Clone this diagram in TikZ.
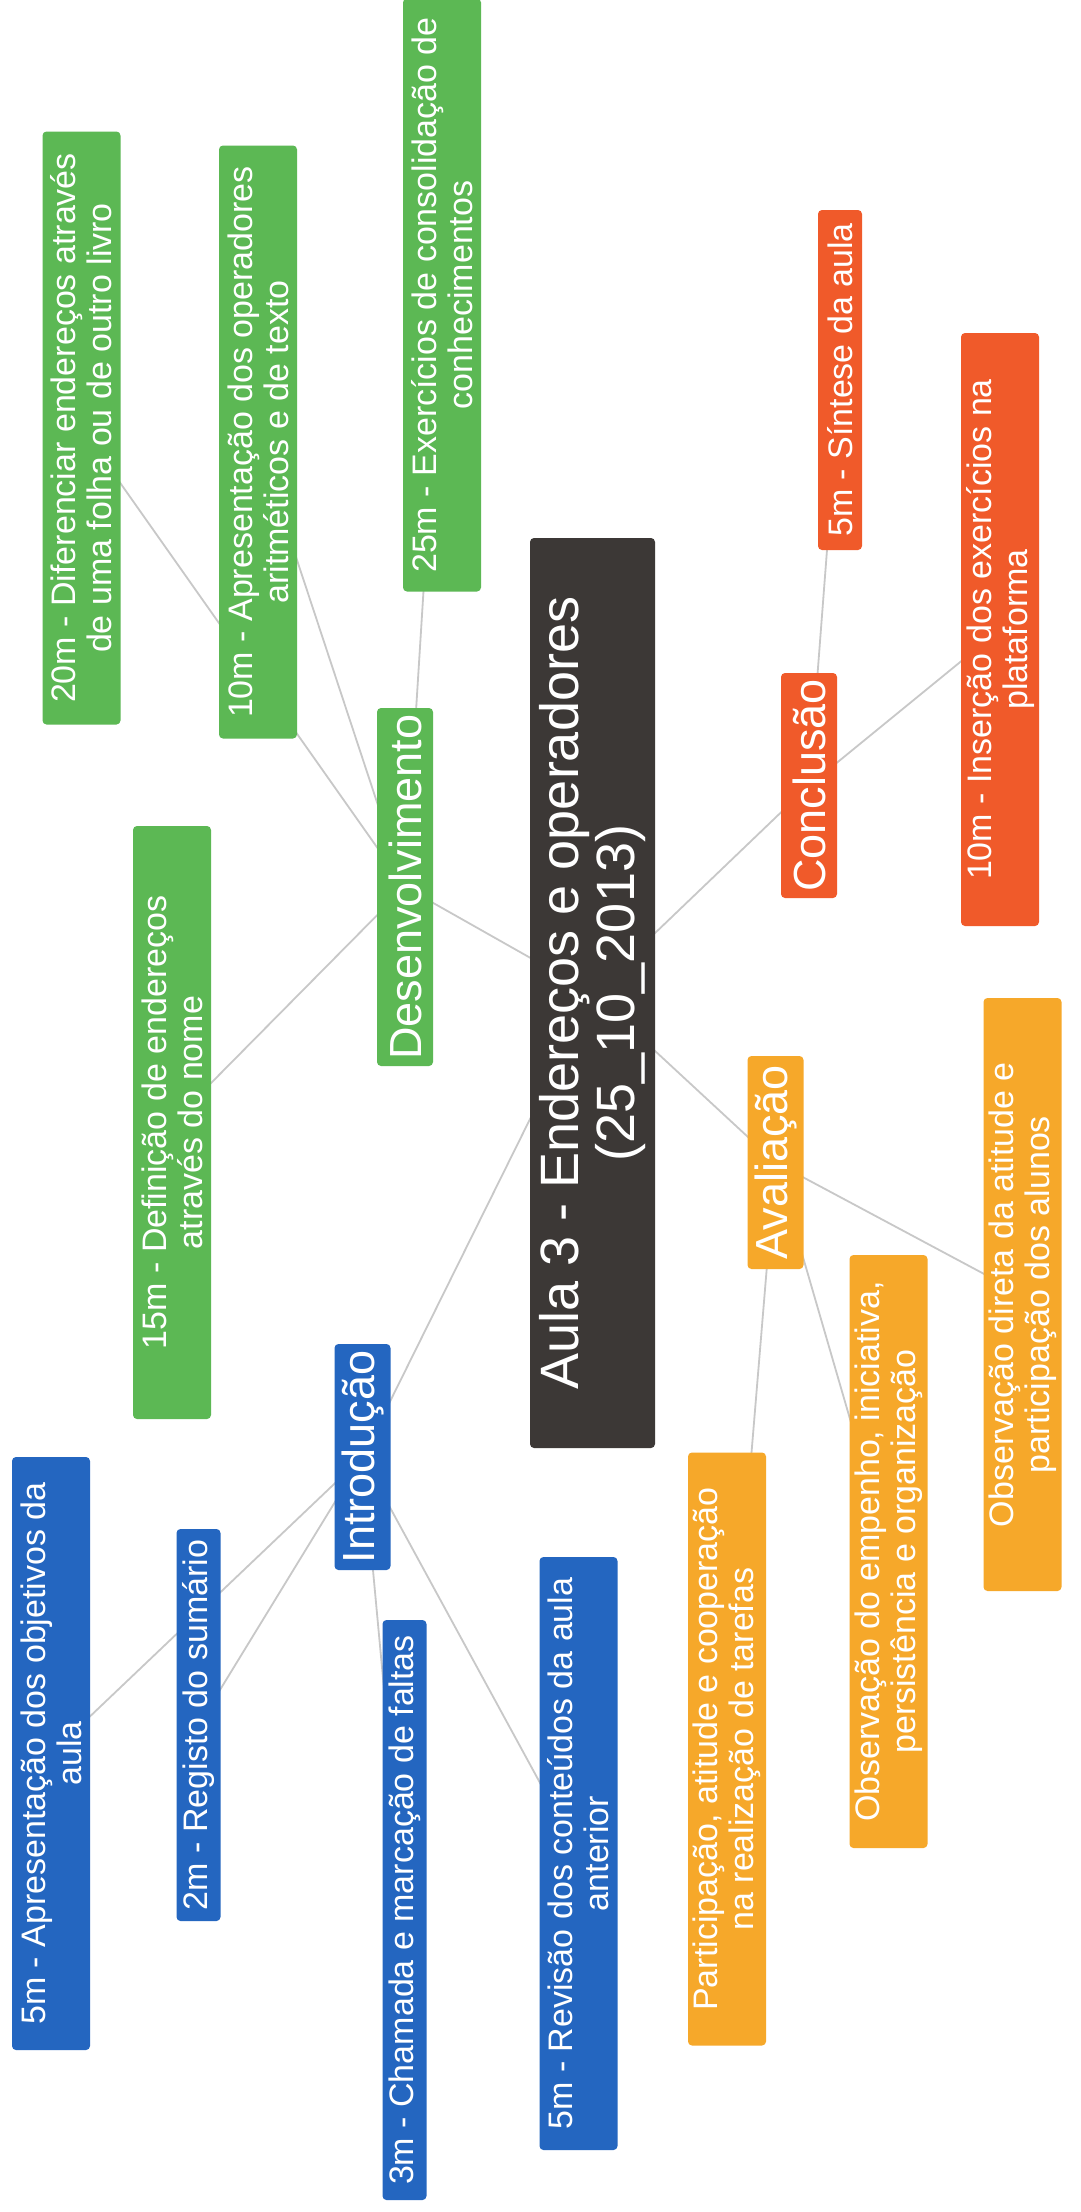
\documentclass[tikz,border=0pt]{standalone}
\usepackage{fontspec}
\setmainfont{Liberation Sans}
\usetikzlibrary{backgrounds}
\definecolor{cgreen}{RGB}{92,184,84}
\definecolor{cblue}{RGB}{36,102,192}
\definecolor{cred}{RGB}{240,90,42}
\definecolor{cyel}{RGB}{246,168,42}
\definecolor{cdark}{RGB}{60,56,54}
\definecolor{linegray}{RGB}{200,200,200}
\tikzset{
  box/.style={rectangle, rounded corners=4pt, rotate=90, text=white, align=center, inner sep=0pt},
  subnode/.style={box, font=\fontsize{34}{36}\selectfont},
  twoline/.style={subnode, minimum width=593pt, minimum height=78pt},
  oneline/.style={subnode, minimum height=44pt},
  branch/.style={box, font=\fontsize{45}{48}\selectfont, minimum height=56pt},
  rootnode/.style={box, fill=cdark, font=\fontsize{54}{56}\selectfont, minimum width=910pt, minimum height=125pt},
  link/.style={draw=linegray, line width=1.8pt},
}
\begin{document}
\begin{tikzpicture}[x=1pt,y=-1pt]
\useasboundingbox (0,0) rectangle (1080,2212);
% root
\node[rootnode] (root) at (592.5,993) {Aula 3 - Endereços e operadores\\(25\_10\_2013)};
% branches
\node[branch, fill=cgreen, minimum width=358pt] (desenv) at (405,887) {Desenvolvimento};
\node[branch, fill=cred, minimum width=225pt] (concl) at (809,785.5) {Conclusão};
\node[branch, fill=cyel, minimum width=213pt] (aval) at (775.5,1162.5) {Avaliação};
\node[branch, fill=cblue, minimum width=226pt] (intro) at (362.5,1457) {Introdução};
% green
\node[twoline, fill=cgreen] (g20) at (81.5,428) {20m - Diferenciar endereços através\\de uma folha ou de outro livro};
\node[twoline, fill=cgreen] (g10) at (258,442) {10m - Apresentação dos operadores\\aritméticos e de texto};
\node[twoline, fill=cgreen] (g25) at (442,295) {25m - Exercícios de consolidação de\\conhecimentos};
\node[twoline, fill=cgreen] (g15) at (172,1122.5) {15m - Definição de endereços\\através do nome};
% red
\node[oneline, fill=cred, minimum width=340pt] (o5) at (840,380) {5m - Síntese da aula};
\node[twoline, fill=cred] (o10) at (1000,629.5) {10m - Inserção dos exercícios na\\plataforma};
% yellow
\node[twoline, fill=cyel] (y1) at (1022.5,1294.5) {Observação direta da atitude e\\participação dos alunos};
\node[twoline, fill=cyel] (y2) at (888.5,1551.5) {Observação do empenho, iniciativa,\\persistência e organização};
\node[twoline, fill=cyel] (y3) at (727,1749) {Participação, atitude e cooperação\\na realização de tarefas};
% blue
\node[twoline, fill=cblue] (b5a) at (51,1753.5) {5m - Apresentação dos objetivos da\\aula};
\node[oneline, fill=cblue, minimum width=392pt] (b2) at (198.5,1725) {2m - Registo do sumário};
\node[oneline, fill=cblue, minimum width=580pt] (b3) at (404.5,1910) {3m - Chamada e marcação de faltas};
\node[twoline, fill=cblue] (b5r) at (578.5,1853.5) {5m - Revisão dos conteúdos da aula\\anterior};
% connectors
\begin{scope}[on background layer]
\fill[white] (0,0) rectangle (1080,2212);
\draw[link] (root.center) -- (desenv.center);
\draw[link] (root.center) -- (concl.center);
\draw[link] (root.center) -- (aval.center);
\draw[link] (root.center) -- (intro.center);
\draw[link] (desenv.center) -- (g20.center);
\draw[link] (desenv.center) -- (g10.center);
\draw[link] (desenv.center) -- (g25.center);
\draw[link] (desenv.center) -- (g15.center);
\draw[link] (concl.center) -- (o5.center);
\draw[link] (concl.center) -- (o10.center);
\draw[link] (aval.center) -- (y1.center);
\draw[link] (aval.center) -- (y2.center);
\draw[link] (aval.center) -- (y3.center);
\draw[link] (intro.center) -- (b5a.center);
\draw[link] (intro.center) -- (b2.center);
\draw[link] (intro.center) -- (b3.center);
\draw[link] (intro.center) -- (b5r.center);
\end{scope}
\end{tikzpicture}
\end{document}
